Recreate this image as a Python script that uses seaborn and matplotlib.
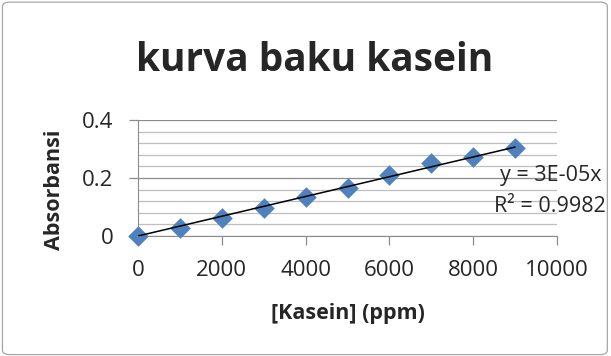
import numpy as np
import pandas as pd
import matplotlib
matplotlib.use('Agg')
import matplotlib.pyplot as plt
import seaborn as sns
from matplotlib.patches import FancyBboxPatch
from matplotlib.ticker import MultipleLocator

kasein_ppm = [0, 1000, 2000, 3000, 4000, 5000, 6000, 7000, 8000, 9000]
absorbansi = [0.0, 0.028, 0.061, 0.095, 0.134, 0.164, 0.21, 0.251, 0.273, 0.302]

df = pd.DataFrame({"kasein": kasein_ppm, "abs": absorbansi})

sns.set_style("white")
plt.rcParams['font.family'] = ['Open Sans', 'DejaVu Sans']

W, H = 611, 356
fig = plt.figure(figsize=(6.11, 3.56), dpi=100)
fig.patches.append(FancyBboxPatch((0.004, 0.004), 0.99, 0.99, boxstyle="round,pad=0,rounding_size=0.012",
                                  transform=fig.transFigure, fill=False, edgecolor="#a6a6a6", linewidth=0.9))
ax = fig.add_axes([138 / W, 1 - 236 / H, (557 - 138) / W, (236 - 120) / H])

# trendline through origin
x = np.array(kasein_ppm, dtype=float)
y = np.array(absorbansi)
slope = (x * y).sum() / (x * x).sum()
xs = np.array([0, x.max()])
ax.plot(xs, slope * xs, color="black", linewidth=1.1, zorder=4)

sns.scatterplot(data=df, x="kasein", y="abs", marker="D", s=110, color="#4F81BD",
                edgecolor="#4F81BD", linewidth=0, ax=ax, zorder=3, clip_on=False)

ax.set_xlim(0, 10000)
ax.set_ylim(0, 0.4)
ax.set_xticks([0, 2000, 4000, 6000, 8000, 10000])
ax.set_yticks([0, 0.2, 0.4])
ax.set_yticklabels(["0", "0.2", "0.4"])
ax.yaxis.set_minor_locator(MultipleLocator(0.04))
ax.grid(axis="y", which="major", color="#8c8c8c", linewidth=0.9)
ax.grid(axis="y", which="minor", color="#bfbfbf", linewidth=0.9)
ax.set_axisbelow(True)
for s in ["top", "right"]:
    ax.spines[s].set_visible(False)
ax.spines["left"].set_color("#8c8c8c")
ax.spines["bottom"].set_color("#8c8c8c")
ax.tick_params(axis="both", which="major", direction="out", length=6.5, width=0.9,
               color="#8c8c8c", labelsize=16, left=True, bottom=True)
ax.tick_params(axis="y", which="major", pad=11)
ax.tick_params(axis="x", which="major", pad=11)
ax.tick_params(axis="y", which="minor", length=0)
ax.set_xlabel("")
ax.set_ylabel("")

fig.text(347.5 / W, 1 - 313 / H, "[Kasein] (ppm)", ha="center", va="center", fontsize=15.5, fontweight="bold")
fig.text(55 / W, 1 - 190 / H, "Absorbansi", ha="center", va="center", rotation=90, fontsize=15.5, fontweight="bold")
fig.text(0.515, 0.83, "kurva baku kasein", ha="center", va="center", fontsize=28, fontweight="bold")
fig.text(602 / W, 1 - 175 / H, "y = 3E-05x", ha="right", va="center", fontsize=15.5)
fig.text(606 / W, 1 - 207 / H, "R² = 0.9982", ha="right", va="center", fontsize=15.5)

fig.savefig("out.png", dpi=100)
